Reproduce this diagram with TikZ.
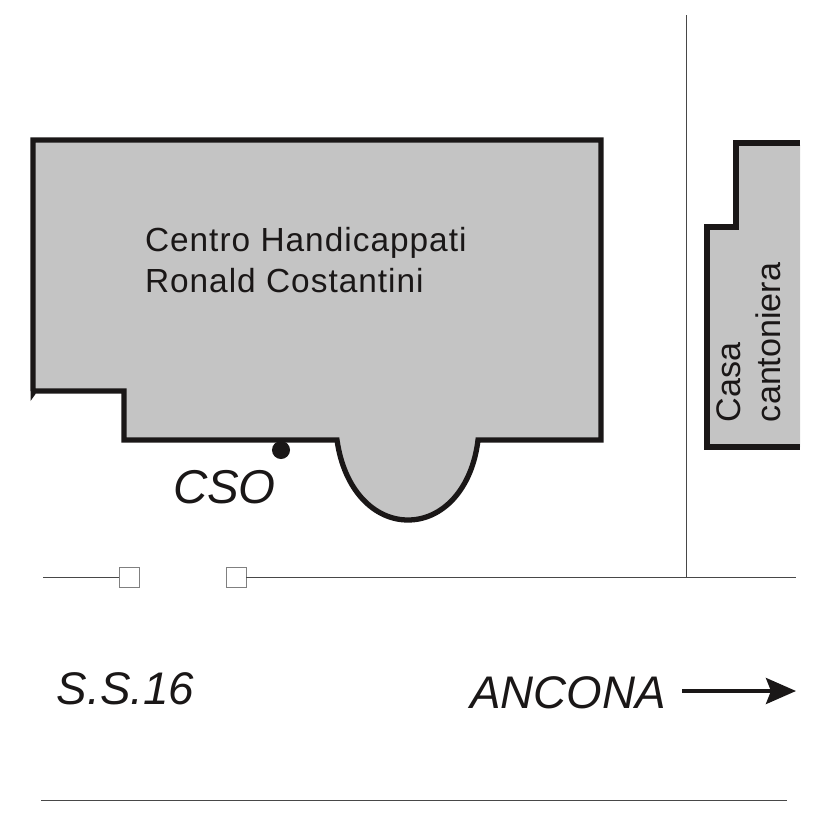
\documentclass[tikz,border=0pt]{standalone}
\usepackage{fontspec}
\setmainfont{Liberation Sans}
\usetikzlibrary{arrows.meta}
\definecolor{wallgrey}{HTML}{C4C4C4}
\definecolor{walldark}{HTML}{1A1717}
\definecolor{roadgrey}{HTML}{484848}
\tikzset{
    wall/.style={draw=walldark,line width=1.5pt,miter limit=10},
    road/.style={draw=roadgrey,line width=0.27pt},
    gatepost/.style={draw=gray,fill=white,line width=0.25pt,minimum size=0.2cm,inner sep=0pt,outer sep=0pt},
    plainlabel/.style={inner sep=0pt,outer sep=0pt,anchor=base west,text=walldark,font=\fontsize{9.5}{11}\selectfont\addfontfeature{LetterSpace=3}},
    sidelabel/.style={inner sep=0pt,outer sep=0pt,anchor=base west,text=walldark,rotate=90,font=\fontsize{9.7}{11}\selectfont},
    biglabel/.style={inner sep=0pt,outer sep=0pt,anchor=base west,text=walldark,font=\fontsize{13}{16}\selectfont\itshape}
}

\begin{document}
\begin{tikzpicture}[x=0.01cm,y=-0.01cm]
        \useasboundingbox (0,0) rectangle (827,827);

        \begin{scope}
            \fill [wallgrey] (33,140) -- (601,140) -- (601,440) -- (478,440)
                .. controls (472,490) and (442,520) .. (408,520)
                .. controls (374,520) and (344,490) .. (337,440)
                -- (124,440) -- (124,391) -- (33,391) -- cycle;
            \draw [wall] (33,391) -- (33,140) -- (601,140) -- (601,440) -- (478,440)
                .. controls (472,490) and (442,520) .. (408,520)
                .. controls (374,520) and (344,490) .. (337,440)
                -- (124,440) -- (124,391) -- (33,391);
            \fill [walldark] (30.5,391) -- (35.5,391) -- (35.5,394) -- (30.5,401) -- cycle;
            \fill [wallgrey] (800,145) -- (736,145) -- (736,227) -- (707,227) -- (707,447) -- (800,447) -- cycle;
            \draw [wall] (800,143) -- (736,143) -- (736,227) -- (707,227) -- (707,447) -- (800,447);
        \end{scope}

        \node (dot) [circle,fill=walldark,inner sep=0pt,minimum size=0.18cm] at (281,450) {};

        \node (centro) [plainlabel] at (145,251) {Centro Handicappati};
        \node (ronald) [plainlabel] at (145,292) {Ronald Costantini};
        \node (casa) [sidelabel] at (740,422) {Casa};
        \node (cantoniera) [sidelabel] at (780,422) {cantoniera};
        \node (cso) [biglabel,font=\fontsize{13.5}{16}\selectfont\itshape] at (173,503) {CSO};
        \node (ss) [biglabel] at (57,704.5) {S.S.16};
        \node (ancona) [biglabel] at (470,708) {ANCONA};

        \node (postA) [gatepost] at (129,577) {};
        \node (postB) [gatepost] at (236,577) {};

        \coordinate (roadW) at (43,577);
        \coordinate (roadE) at (796,577);
        \coordinate (cross) at (686,577);
        \coordinate (lane) at (686,15);
        \coordinate (edgeW) at (41,800);
        \coordinate (edgeE) at (787,800);
        \coordinate (arrowW) at (682,691);
        \coordinate (arrowE) at (796,691);

        \begin{scope}[every path/.style={road}]
            \path (roadW) -- (postA);
            \path (postB) -- (roadE);
            \path (lane) -- (cross);
            \path (edgeW) -- (edgeE);
        \end{scope}

        \draw [-{Stealth[length=0.3cm,width=0.26cm,inset=0.05cm]},draw=walldark,fill=walldark,line width=1pt] (arrowW) -- (arrowE);
    \end{tikzpicture}
\end{document}
